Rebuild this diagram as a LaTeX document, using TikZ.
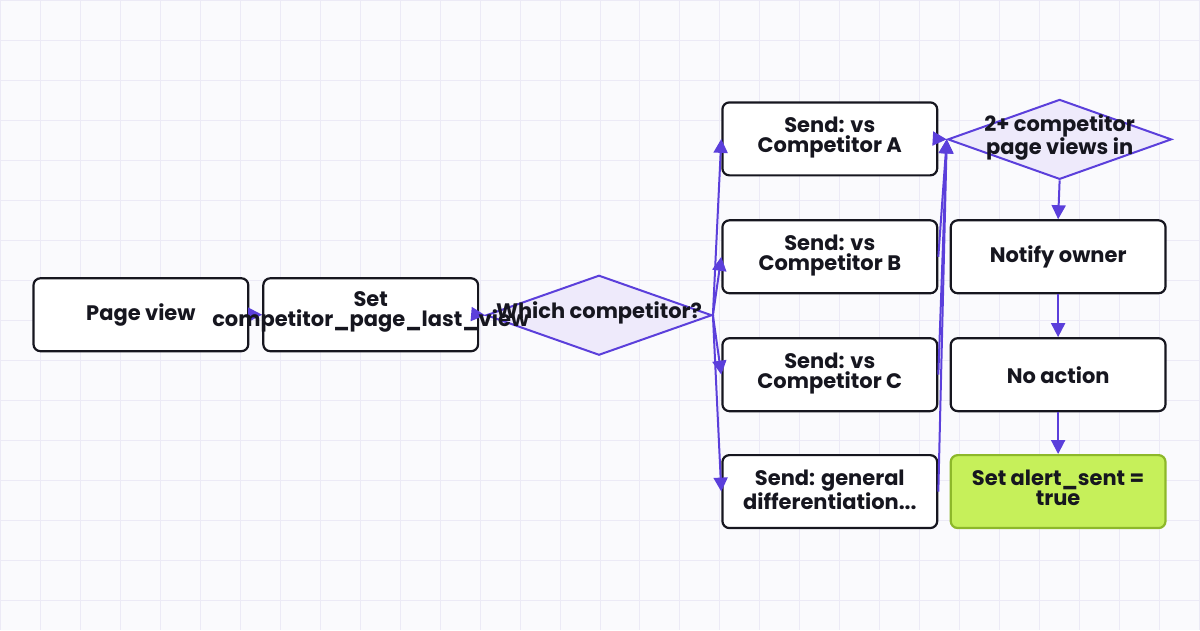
\documentclass[tikz,border=0pt]{standalone}
\usepackage{fontspec}
\setmainfont{Poppins}
\usetikzlibrary{shapes.geometric,arrows.meta}
\definecolor{grid}{HTML}{ECEAF6}
\definecolor{bg}{HTML}{FAFAFD}
\definecolor{pur}{HTML}{5B3FDB}
\definecolor{lav}{HTML}{EEEAFB}
\definecolor{ink}{HTML}{16161F}
\definecolor{lime}{HTML}{C6F05A}
\definecolor{limed}{HTML}{8DB82A}
\begin{document}
\begin{tikzpicture}[x=1pt,y=-1pt,
  box/.style={draw=ink,line width=2.2pt,rounded corners=7pt,fill=white,minimum width=215pt,minimum height=73pt,inner sep=0pt},
  txt/.style={font=\fontsize{21}{20}\selectfont\bfseries,align=center,text=ink},
  dia/.style={diamond,draw=pur,fill=lav,line width=2pt,inner sep=0pt,aspect=2.8},
  arr/.style={draw=pur,line width=2pt,-{Triangle[length=14pt,width=14pt]}}]
\fill[bg] (0,0) rectangle (1200,630);
\foreach \x in {0,40,...,1200} \draw[grid,line width=1pt] (\x,0)--(\x,630);
\foreach \y in {0,40,...,630} \draw[grid,line width=1pt] (0,\y)--(1200,\y);
\useasboundingbox (0,0) rectangle (1200,630);
\node[box] (pv) at (140.5,314.5) {};
\node[box] (set) at (370.5,314.5) {};
\node[dia,minimum width=226pt,minimum height=80pt] (d1) at (599,315) {};
\node[box] (a) at (830,138.5) {};
\node[box] (b) at (830,256.5) {};
\node[box] (c) at (830,374.5) {};
\node[box] (g) at (830,491.5) {};
\node[dia,minimum width=224pt,minimum height=80pt] (d2) at (1060,139) {};
\node[box] (n) at (1058.5,256.5) {};
\node[box] (na) at (1058.5,374.5) {};
\node[box,fill=lime,draw=limed] (s) at (1058.5,491.5) {};
\draw[arr] (pv.east) -- (set.west);
\draw[arr] (set.east) -- (d1.west);
\foreach \t in {a,b,c,g} \draw[arr] (d1.east) -- (\t.west);
\foreach \t in {a,b,c,g} \draw[arr] (\t.east) -- (d2.west);
\draw[arr] (d2.south) -- (n.north);
\draw[arr] (n) -- (na);
\draw[arr] (na) -- (s);
\node[txt] (t1) at (pv) {Page view};
\node[txt] (t2) at (370.5,312) {Set\\competitor\_page\_last\_view};
\node[txt] (t3) at (599,313) {Which competitor?};
\node[txt] (t4) at (830,137) {Send: vs\\Competitor A};
\node[txt] (t5) at (830,255) {Send: vs\\Competitor B};
\node[txt] (t6) at (830,373) {Send: vs\\Competitor C};
\node[txt] (t7) at (830,490) {Send: general\\differentiation...};
\node[txt] (t8) at (1060,137) {2+ competitor\\page views in};
\node[txt] (t9) at (n) {Notify owner};
\node[txt] (t10) at (na) {No action};
\node[txt] (t11) at (1058.5,488) {Set alert\_sent =\\true};
\end{tikzpicture}
\end{document}
